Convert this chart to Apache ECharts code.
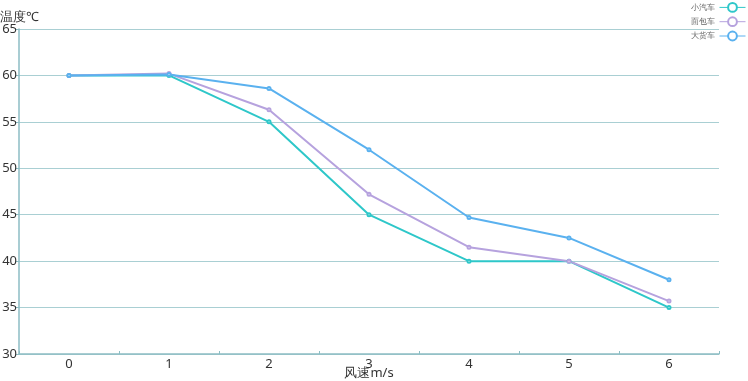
<!DOCTYPE html>
<html><head><meta charset="utf-8">
<script src="https://cdn.jsdelivr.net/npm/echarts@6/dist/echarts.min.js"></script>
<style>html,body{margin:0;padding:0;background:#fff}#c{width:748px;height:381px}</style>
</head><body><div id="c"></div>
<script>
const categories = ['0','1','2','3','4','5','6'];
const seriesNames = ['小汽车','面包车','大货车'];
const car = [60, 60, 55, 45, 40, 40, 35];
const van = [60, 60.2, 56.3, 47.2, 41.5, 40, 35.7];
const truck = [60, 60.1, 58.6, 52, 44.7, 42.5, 38];
const colors = ['#2ec7c9', '#b6a2de', '#5ab1ef'];
const chart = echarts.init(document.getElementById('c'));
const mk = (name, data, i) => ({
  name, type: 'line', data, symbol: 'emptyCircle', symbolSize: 3,
  lineStyle: {width: 2, color: colors[i]}, itemStyle: {color: colors[i]}
});
chart.setOption({
  animation: false,
  color: colors,
  textStyle: {fontFamily: 'Noto Sans, sans-serif'},
  legend: {
    orient: 'vertical', right: 0, top: 0, itemGap: 3.5, itemWidth: 26, itemHeight: 11,
    align: 'right', padding: [2, 2, 2, 2],
    textStyle: {fontSize: 8, color: '#666'},
    lineStyle: {width: 1},
    itemStyle: {borderWidth: 1},
    data: seriesNames
  },
  grid: {left: 19, right: 29, top: 29, bottom: 27, containLabel: false, outerBoundsMode: 'none'},
  xAxis: {
    type: 'category', data: categories, boundaryGap: true,
    name: '风速m/s', nameLocation: 'middle', nameGap: 13, nameMoveOverlap: false,
    nameTextStyle: {fontSize: 13, color: '#333'},
    axisLine: {lineStyle: {color: '#8dbdc4', width: 1.5}},
    axisTick: {show: true, inside: true, length: 3, lineStyle: {color: '#8dbdc4'}},
    axisLabel: {fontSize: 13, color: '#333', margin: 4}
  },
  yAxis: {
    type: 'value', min: 30, max: 65, interval: 5,
    name: '温度℃', nameGap: 5, nameMoveOverlap: false,
    nameTextStyle: {fontSize: 13, color: '#333', align: 'left', padding: [0,0,0,-19]},
    axisLine: {show: true, lineStyle: {color: '#8dbdc4', width: 1.5}},
    axisTick: {show: true, length: 3, lineStyle: {color: '#8dbdc4'}},
    axisLabel: {fontSize: 13, color: '#333', margin: 2},
    splitLine: {lineStyle: {color: '#a9cfd3'}}
  },
  series: [mk(seriesNames[0], car, 0), mk(seriesNames[1], van, 1), mk(seriesNames[2], truck, 2)]
});
</script></body></html>
